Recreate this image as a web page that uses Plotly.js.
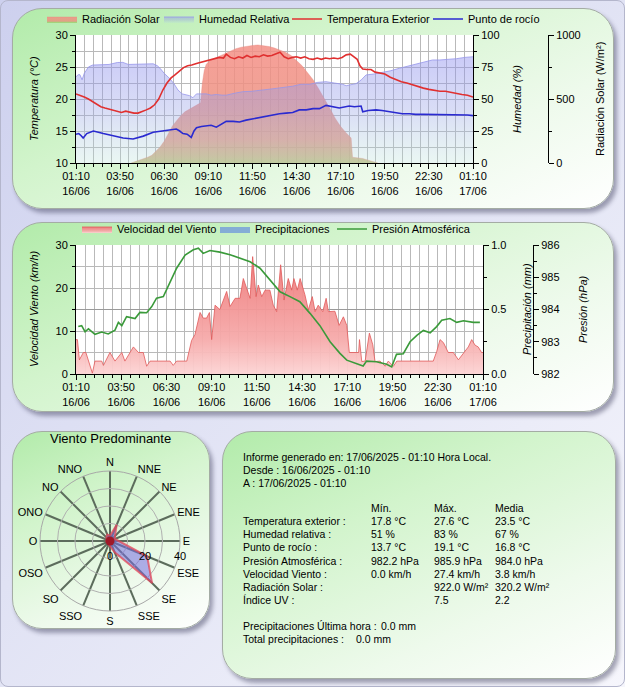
<!DOCTYPE html>
<html><head><meta charset="utf-8">
<script src="https://cdn.plot.ly/plotly-3.0.1.min.js"></script>
<style>
html,body{margin:0;padding:0;}
body{width:625px;height:687px;position:relative;overflow:hidden;background:linear-gradient(135deg,#cdd0ee 0%,#e0e2f4 45%,#f6f6fc 100%);}
.frame{position:absolute;left:0;top:0;width:623px;height:685px;border:1px solid #b4b6cc;border-radius:8px;}
.panel{position:absolute;border:1px solid #a4aca4;border-radius:30px;background:linear-gradient(155deg,#b2ebaa 0%,#d2f4cc 35%,#eefaec 72%,#ffffff 100%);box-shadow:3px 4px 4px rgba(60,60,90,0.45);}
#chart{position:absolute;left:0;top:0;width:625px;height:687px;}
</style></head>
<body>
<div class="frame"></div>
<div class="panel" style="left:12px;top:8px;width:600px;height:199px;"></div>
<div class="panel" style="left:12px;top:222px;width:600px;height:188px;"></div>
<div class="panel" style="left:12px;top:431px;width:196px;height:196px;"></div>
<div class="panel" style="left:222px;top:431px;width:392px;height:246px;"></div>
<div id="chart"></div>
<script>
// ---------- data (minutes after 16/06/2025 01:10) ----------
const tempTime = [0,15,30,45,60,75,90,105,120,135,150,165,180,195,210,225,240,255,270,285,300,315,330,345,360,375,390,405,420,440,460,480,500,520,535,545,560,575,590,605,620,635,650,665,680,695,710,725,740,755,770,785,800,815,830,845,860,875,890,905,920,935,950,965,980,995,1010,1020,1030,1040,1055,1070,1085,1100,1120,1140,1160,1180,1200,1220,1240,1260,1280,1300,1320,1340,1360,1380,1400,1420,1440];
const tempExt = [20.8,20.6,20.3,20.0,19.6,19.2,18.8,18.6,18.4,18.3,18.0,17.9,18.1,17.9,17.8,17.8,18.0,18.3,18.6,19.1,20.0,21.4,22.5,23.3,23.8,24.4,24.9,25.2,25.3,25.6,25.8,26.1,26.2,26.5,26.4,27.0,26.5,26.3,26.6,26.4,26.8,26.5,26.7,26.6,26.9,26.7,26.8,27.0,27.3,26.6,26.3,26.5,26.6,26.4,26.6,26.3,26.2,26.4,26.2,26.4,26.3,26.4,26.3,26.5,26.9,27.0,26.6,26.2,25.2,24.7,24.6,24.6,24.2,24.1,23.9,23.4,23.0,22.7,22.5,22.2,21.9,21.7,21.5,21.3,21.2,21.2,21.0,20.9,20.7,20.6,20.3];
const dewTime = [0,10,18,26,39,63,99,135,171,207,244,280,316,340,364,376,388,403,418,428,437,455,473,490,509,527,545,570,593,617,641,665,690,714,738,762,786,810,835,860,883,907,931,955,991,1010,1034,1040,1060,1088,1110,1136,1160,1184,1210,1232,1260,1293,1320,1353,1390,1420,1440];
const dewPoint = [14.5,14.6,14.3,13.9,14.6,15.0,14.6,14.2,13.9,13.75,14.2,14.8,15.0,15.1,15.3,15.0,14.6,14.5,14.0,15.0,15.5,15.7,15.8,15.9,15.6,16.1,16.5,16.5,16.4,16.7,16.9,17.2,17.4,17.6,17.7,17.8,17.9,18.3,18.3,18.5,18.5,19.0,18.8,18.6,18.9,18.8,18.9,18.0,18.2,18.3,18.2,18.0,17.9,17.7,17.7,17.6,17.6,17.6,17.5,17.6,17.5,17.5,17.4];
const humTime = [0,8,14,22,30,45,60,90,120,150,170,190,220,250,280,295,305,320,340,355,370,385,400,412,424,437,455,473,490,509,530,545,575,605,635,666,696,726,756,786,816,847,877,907,937,967,980,1000,1016,1035,1052,1080,1113,1140,1173,1200,1233,1260,1293,1320,1353,1380,1410,1440];
const humidity = [67.4,69,69,65,70,75,76.5,77,77,78.5,78.6,77,77,77,77.5,76,74,70,66,62,57,54,53,52.6,51,54,54,54,53,53.5,53,53,54.5,55.7,56,57,57.5,58.3,59,60,61.5,61.5,63,63.5,62.5,61.5,60.4,61,62,65,68.8,69.5,70.6,72,74,75.5,77,79,80.5,80.5,81,81.5,82.5,83];
const radTime = [200,215,230,245,260,275,290,305,320,335,350,365,380,395,410,425,440,452,458,465,472,485,500,520,540,560,580,600,620,640,660,680,700,720,740,760,780,800,820,840,860,880,900,920,940,960,980,998,1003,1020,1040,1060,1080,1095];
const radiation = [0,10,22,35,45,60,95,125,170,230,290,330,370,400,420,440,455,470,620,720,770,800,815,835,855,878,893,905,913,918,922,918,910,898,880,865,840,800,760,705,650,580,510,430,350,285,235,195,45,40,35,22,8,0];
const windTime = [0,5,12,26,35,50,58,67,91,97,120,138,162,173,191,203,221,238,250,262,333,344,356,392,409,421,439,450,462,472,480,492,509,533,545,563,580,592,604,616,625,637,645,657,669,686,698,710,724,736,751,763,771,783,793,810,822,836,846,857,873,885,893,916,931,946,958,967,1000,1003,1011,1023,1038,1050,1058,1076,1094,1105,1123,1135,1264,1276,1288,1300,1317,1335,1353,1371,1388,1400,1412,1423,1435,1440];
const windSpeed = [8,8,3.3,5,5,1.8,0.2,3,3,2,5,3,5,3,5,6.3,5,5,1.8,3,3,2,3,3,7.8,9.2,14.3,13,13,14.3,8,16,15,19.2,15.7,17.6,17.6,22.2,19.9,17.6,27.3,18,20.7,18,19.5,19.5,16,14.5,25.4,17.2,22.2,19.5,22.2,19.5,22.2,18.4,14.9,18,14.5,16,14.5,17.6,14.5,14.6,11.3,13.3,11.3,5,5,8,2.9,3,9.5,6.8,2.9,3,1.8,3,1.8,3,3,5.2,8,7.3,5,5,3.3,5,6.3,8,6.7,6.3,5,5];
const pressTime = [8,20,32,44,67,91,114,138,150,162,179,209,226,250,268,285,309,333,356,386,415,433,450,474,509,545,580,616,651,686,722,757,792,828,863,899,934,958,981,1016,1028,1063,1099,1117,1134,1158,1182,1206,1229,1253,1276,1294,1323,1347,1371,1406,1429];
const pressure = [983.47,983.5,983.31,983.4,983.23,983.3,983.24,983.36,983.6,983.5,983.78,983.72,983.91,983.9,984.09,984.35,984.4,984.86,985.28,985.69,985.85,985.9,985.74,985.83,985.78,985.7,985.6,985.48,985.28,984.91,984.55,984.4,984.24,983.88,983.5,983.0,982.64,982.43,982.36,982.25,982.4,982.38,982.3,982.22,982.61,982.63,983.0,983.2,983.35,983.28,983.47,983.67,983.72,983.6,983.65,983.6,983.6];
const precipTime = [0,1440];
const precipitation = [0,0];
const roseDirs = ['N','NNE','NE','ENE','E','ESE','SE','SSE','S','SSO','SO','OSO','O','ONO','NO','NNO'];
const roseValues = [3,10,4,3,5,23,34,7,3,2,1,1,2,2,3,4];
const statHeaders = ['Mín.','Máx.','Media'];
const statLabels = ['Temperatura exterior :','Humedad relativa :','Punto de rocío :','Presión Atmosférica :','Velocidad Viento :','Radiación Solar :','Índice UV :'];
const statMin = ['17.8 °C','51 %','13.7 °C','982.2 hPa','0.0 km/h','',''];
const statMax = ['27.6 °C','83 %','19.1 °C','985.9 hPa','27.4 km/h','922.0 W/m²','7.5'];
const statMean = ['23.5 °C','67 %','16.8 °C','984.0 hPa','3.8 km/h','320.2 W/m²','2.2'];
const xTickFormat = '%H:%M<br>%d/%m';

// ---------- helpers ----------
const START = Date.UTC(2025,5,16,1,10);
const toDate = m => new Date(START + m*60000).toISOString().slice(0,19).replace('T',' ');
const dates = arr => arr.map(toDate);
const W = 625, H = 687;
const px = x => x/W, py = y => 1 - y/H;
const F = '"Liberation Sans", Arial, sans-serif';
const GRID = '#b9b9b9';

const traces = [
  {name:'Radiación Solar', x:dates(radTime), y:radiation, xaxis:'x', yaxis:'y', mode:'lines', fill:'tozeroy',
   line:{width:0.6,color:'rgba(230,130,120,0.6)'},
   fillgradient:{type:'vertical',start:-150,stop:800,colorscale:[[0,'rgba(125,236,115,0.9)'],[0.08,'rgba(160,208,115,0.88)'],[0.2,'rgba(200,172,122,0.86)'],[0.35,'rgba(232,148,126,0.85)'],[1,'rgba(243,143,133,0.85)']]},
   legend:'legend', hoverinfo:'skip'},
  {name:'Humedad Relativa', x:dates(humTime), y:humidity, xaxis:'x', yaxis:'y2', mode:'lines', fill:'tozeroy',
   line:{width:1,color:'rgba(150,150,235,0.8)'},
   fillgradient:{type:'vertical',colorscale:[[0,'rgba(185,228,215,0.3)'],[0.5,'rgba(155,165,232,0.38)'],[1,'rgba(140,140,238,0.45)']]},
   legend:'legend2', hoverinfo:'skip'},
  {name:'Temperatura Exterior', x:dates(tempTime), y:tempExt, xaxis:'x', yaxis:'y3', mode:'lines', line:{width:1.6,color:'#e03030'}, legend:'legend3'},
  {name:'Punto de rocío', x:dates(dewTime), y:dewPoint, xaxis:'x', yaxis:'y3', mode:'lines', line:{width:1.6,color:'#2a2ad0'}, legend:'legend4'},
  {name:'Velocidad del Viento', x:dates(windTime), y:windSpeed, xaxis:'x2', yaxis:'y4', mode:'lines', fill:'tozeroy',
   line:{width:1,color:'rgba(225,90,90,0.8)'},
   fillgradient:{type:'vertical',colorscale:[[0,'rgba(252,212,212,0.95)'],[0.3,'rgba(246,170,170,0.95)'],[1,'rgba(238,120,120,0.95)']]},
   legend:'legend5'},
  {name:'Precipitaciones', x:dates(precipTime), y:precipitation, xaxis:'x2', yaxis:'y5', mode:'lines', fill:'tozeroy',
   line:{width:0,color:'rgba(100,140,220,0.8)'}, fillcolor:'rgba(110,150,220,0.75)', legend:'legend6'},
  {name:'Presión Atmosférica', x:dates(pressTime), y:pressure, xaxis:'x2', yaxis:'y6', mode:'lines', line:{width:1.6,color:'#3a9a3a'}, legend:'legend7'},
  {type:'scatterpolar', r:roseValues.concat([roseValues[0]]), theta:roseDirs.concat([roseDirs[0]]), mode:'lines', fill:'toself',
   fillcolor:'rgba(120,110,225,0.55)', line:{color:'rgba(225,70,85,0.75)',width:2}, showlegend:false},
  {type:'scatterpolar', r:[0], theta:['N'], mode:'markers', marker:{size:9,color:'#a01828'}, showlegend:false}
];

const tickFont = {family:F,size:11,color:'#000'};
function xAx(domain, anchor){
  return {domain, anchor, type:'date', range:[toDate(0),toDate(1440)], tick0:toDate(0), dtick:160*60000,
    tickformat:xTickFormat, ticks:'outside', ticklen:5, tickcolor:'#000', showline:true, linecolor:'#000',
    ticklabelstandoff:-2,
    showgrid:true, gridcolor:GRID, zeroline:false, tickfont:tickFont,
    minor:{tick0:toDate(0), dtick:32*60000, ticks:'outside', ticklen:3, tickcolor:'#000', showgrid:true, gridcolor:GRID}};
}
function yAx(o){
  return Object.assign({ticks:'outside', ticklen:5, tickcolor:'#000', showline:true, linecolor:'#000', zeroline:false,
    tickfont:tickFont, showgrid:false}, o);
}
function leg(textX, y){
  return {orientation:'h', x:px(textX-40), y:py(y), xanchor:'left', yanchor:'middle', bgcolor:'rgba(0,0,0,0)',
    font:{family:F,size:11,color:'#000'}, itemwidth:30};
}

const ann = [];
function A(text,x,y,o){ ann.push(Object.assign({text, x:px(x), y:py(y), xref:'paper', yref:'paper', showarrow:false,
  font:{family:F,size:11,color:'#000'}, xanchor:'center', yanchor:'middle'}, o||{})); }
A('<i>Temperatura (°C)</i>',34,99,{textangle:-90});
A('<i>Humedad (%)</i>',517,99,{textangle:-90});
A('Radiación Solar (W/m²)',600,99,{textangle:-90});
A('<i>Velocidad Viento (km/h)</i>',34,309,{textangle:-90});
A('<i>Precipitación (mm)</i>',527,309,{textangle:-90});
A('<i>Presión (hPa)</i>',583,309,{textangle:-90});
A('Viento Predominante',110,438,{font:{family:F,size:13,color:'#000'}});
const tf = {family:F,size:10.5,color:'#000'};
A('Informe generado en: 17/06/2025 - 01:10 Hora Local.',241,457,{xanchor:'left',font:tf});
A('Desde : 16/06/2025 - 01:10',241,470,{xanchor:'left',font:tf});
A('A : 17/06/2025 - 01:10',241,483,{xanchor:'left',font:tf});
const colX = [369,432,493];
statHeaders.forEach((h,i)=>A(h,colX[i],508,{xanchor:'left',font:tf}));
statLabels.forEach((l,i)=>{
  const y = 521 + i*13.2;
  A(l,241,y,{xanchor:'left',font:tf});
  if(statMin[i]) A(statMin[i],colX[0],y,{xanchor:'left',font:tf});
  if(statMax[i]) A(statMax[i],colX[1],y,{xanchor:'left',font:tf});
  if(statMean[i]) A(statMean[i],colX[2],y,{xanchor:'left',font:tf});
});
A('Precipitaciones Última hora :',241,626,{xanchor:'left',font:tf});
A('0.0 mm',379,626,{xanchor:'left',font:tf});
A('Total precipitaciones :',241,639,{xanchor:'left',font:tf});
A('0.0 mm',354,639,{xanchor:'left',font:tf});

const layout = {
  width:W, height:H, margin:{l:0,r:0,t:0,b:0}, paper_bgcolor:'rgba(0,0,0,0)', plot_bgcolor:'#ffffff',
  font:{family:F,size:11,color:'#000'}, showlegend:true,
  legend:leg(82,19), legend2:leg(199,19), legend3:leg(327,19), legend4:leg(468,19),
  legend5:leg(117,229), legend6:leg(255,229), legend7:leg(372,229),
  xaxis: xAx([px(76),px(473)],'y'),
  yaxis: yAx({domain:[py(163),py(35)], anchor:'free', position:px(548), side:'right', range:[0,1000], dtick:500,
    minor:{dtick:250,ticks:'outside',ticklen:3,tickcolor:'#000'}}),
  yaxis2: yAx({overlaying:'y', anchor:'x', side:'right', range:[0,100], dtick:25,
    minor:{dtick:12.5,ticks:'outside',ticklen:3,tickcolor:'#000'}}),
  yaxis3: yAx({overlaying:'y', anchor:'x', side:'left', range:[10,30], dtick:5, showgrid:true, gridcolor:GRID,
    minor:{dtick:2.5,ticks:'outside',ticklen:3,tickcolor:'#000',showgrid:true,gridcolor:GRID}}),
  xaxis2: xAx([px(76),px(483)],'y4'),
  yaxis4: yAx({domain:[py(374),py(245)], anchor:'x2', side:'left', range:[0,30], dtick:10, showgrid:true, gridcolor:GRID,
    minor:{dtick:5,ticks:'outside',ticklen:3,tickcolor:'#000',showgrid:true,gridcolor:GRID}}),
  yaxis5: yAx({overlaying:'y4', anchor:'x2', side:'right', range:[0,1], dtick:0.5, tickformat:'.1f', showgrid:true, gridcolor:'#9a9a9a', gridwidth:1.5,
    minor:{dtick:0.25,ticks:'outside',ticklen:3,tickcolor:'#000'}}),
  yaxis6: yAx({overlaying:'y4', anchor:'free', position:px(533), side:'right', range:[982,986], dtick:1,
    minor:{dtick:0.5,ticks:'outside',ticklen:3,tickcolor:'#000'}}),
  polar:{domain:{x:[px(40),px(180)], y:[py(611),py(471)]}, bgcolor:'rgba(0,0,0,0)',
    angularaxis:{type:'category', categoryarray:roseDirs, direction:'clockwise', rotation:90, showgrid:true, gridcolor:'#5c6c5c', gridwidth:2,
      showline:true, linecolor:'#a8a8a8', linewidth:1, ticks:'', tickfont:tickFont},
    radialaxis:{range:[0,40], tickvals:[0,10,20,30,40], ticktext:['0','','20','','40'], angle:0, side:'clockwise', showline:false,
      showgrid:true, gridcolor:'#b0b0b0', gridwidth:1, ticks:'outside', ticklen:5, tickcolor:'rgba(0,0,0,0)', tickfont:tickFont}},
  annotations: ann
};
Plotly.newPlot('chart', traces, layout, {staticPlot:true, displayModeBar:false});
</script>
</body></html>
